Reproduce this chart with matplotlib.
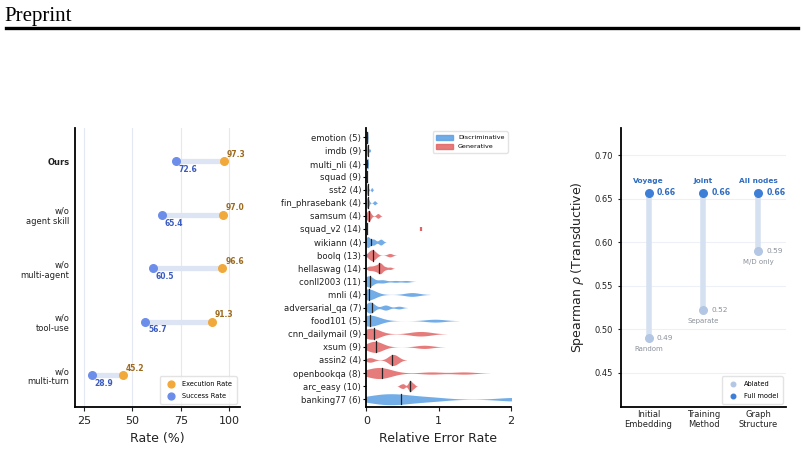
import numpy as np
import matplotlib
matplotlib.use('Agg')
import matplotlib.pyplot as plt
from matplotlib.lines import Line2D
from matplotlib.patches import Patch

# ---- panel 1: agent ablation ----
variants = ['Ours', 'w/o\nagent skill', 'w/o\nmulti-agent', 'w/o\ntool-use', 'w/o\nmulti-turn']
exec_rate = [97.3, 97.0, 96.6, 91.3, 45.2]
succ_rate = [72.6, 65.4, 60.5, 56.7, 28.9]

# ---- panel 2: relative error per dataset ----
datasets = ['emotion', 'imdb', 'multi_nli', 'squad', 'sst2', 'fin_phrasebank', 'samsum',
            'squad_v2', 'wikiann', 'boolq', 'hellaswag', 'conll2003', 'mnli', 'adversarial_qa',
            'food101', 'cnn_dailymail', 'xsum', 'assin2', 'openbookqa', 'arc_easy', 'banking77']
counts = [5, 9, 4, 9, 4, 4, 4, 14, 4, 13, 14, 11, 4, 7, 5, 9, 9, 4, 8, 10, 6]
kinds = ['D', 'D', 'D', 'D', 'D', 'D', 'G', 'D', 'D', 'G', 'G', 'D', 'D', 'D',
         'D', 'G', 'G', 'G', 'G', 'G', 'D']
errors = [
    [0.004, 0.008, 0.012, 0.016, 0.02],
    [0.004, 0.008, 0.01, 0.014, 0.018, 0.02, 0.026, 0.035, 0.05],
    [0.004, 0.01, 0.018, 0.024],
    [0.002, 0.003, 0.004, 0.005, 0.005, 0.006, 0.007, 0.008, 0.01],
    [0.008, 0.014, 0.02, 0.075],
    [0.008, 0.016, 0.026, 0.115],
    [0.01, 0.03, 0.05, 0.16],
    [0.003, 0.004, 0.005, 0.006, 0.006, 0.007, 0.008, 0.01, 0.012],
    [0.008, 0.03, 0.1, 0.2],
    [0.02, 0.04, 0.06, 0.07, 0.08, 0.09, 0.1, 0.12, 0.14, 0.31, 0.34],
    [0.02, 0.05, 0.08, 0.11, 0.13, 0.15, 0.17, 0.18, 0.19, 0.2, 0.21, 0.23, 0.27, 0.33],
    [0.0, 0.01, 0.02, 0.03, 0.04, 0.05, 0.08, 0.2, 0.24, 0.4, 0.55],
    [0.0, 0.02, 0.05, 0.63],
    [0.01, 0.03, 0.05, 0.07, 0.1, 0.25, 0.28, 0.45],
    [0.0, 0.03, 0.055, 0.1, 0.95],
    [0.01, 0.04, 0.06, 0.07, 0.1, 0.15, 0.65, 0.75, 0.85],
    [0.02, 0.06, 0.1, 0.12, 0.13, 0.16, 0.2, 0.75, 0.85],
    [0.05, 0.33, 0.37, 0.42],
    [0.02, 0.1, 0.15, 0.2, 0.24, 0.3, 0.9, 1.35],
    [0.47, 0.5, 0.52, 0.58, 0.6, 0.6, 0.61, 0.62, 0.64, 0.66],
    [0.1, 0.25, 0.4, 0.55, 0.9, 2.05],
]
# stray points of the other type
extra_rows = ['squad_v2', 'boolq']
extra_vals = [0.76, 0.005]
extra_kinds = ['G', 'D']

# ---- panel 3: GNN ablation ----
components = ['Initial\nEmbedding', 'Training\nMethod', 'Graph\nStructure']
full_score = [0.657, 0.657, 0.657]
abl_score = [0.49, 0.522, 0.59]
full_names = ['Voyage', 'Joint', 'All nodes']
abl_names = ['Random', 'Separate', 'M/D only']

C_EXEC = '#F2A93B'
C_SUCC = '#6C8EEA'
C_DISC = '#5B9FE3'
C_GEN = '#E26464'
TXT = '#222222'

fig = plt.figure(figsize=(8.04, 4.61), dpi=100)
fig.text(0.006, 0.985, 'Preprint', family='Liberation Serif', fontsize=15, va='top', ha='left')
fig.add_artist(Line2D([0.008, 0.993], [0.939, 0.939], lw=2.4, color='black'))


def style_axes(ax):
    for s in ['top', 'right']:
        ax.spines[s].set_visible(False)
    ax.spines['left'].set_linewidth(1.3)
    ax.spines['bottom'].set_linewidth(1.3)


# ---------------- left ----------------
ax1 = fig.add_axes([0.0933, 0.117, 0.2052, 0.605])
style_axes(ax1)
ypos = np.arange(len(variants))
for x in [25, 50, 75, 100]:
    ax1.axvline(x, color='#e4e8f2', lw=0.8, zorder=0)
for i in range(len(variants)):
    ax1.plot([succ_rate[i], exec_rate[i]], [ypos[i], ypos[i]], color='#dde4f3', lw=3.8,
             solid_capstyle='butt', zorder=1)
    ax1.annotate('%.1f' % exec_rate[i], (exec_rate[i], ypos[i]), xytext=(2, 5),
                 textcoords='offset points', fontsize=5.5, fontweight='bold', color='#9c6a1f',
                 ha='left', va='center')
    ax1.annotate('%.1f' % succ_rate[i], (succ_rate[i], ypos[i]), xytext=(2, -6),
                 textcoords='offset points', fontsize=5.5, fontweight='bold', color='#3a5bc0',
                 ha='left', va='center')
ax1.scatter(exec_rate, ypos, s=30, color=C_EXEC, zorder=3, label='Execution Rate')
ax1.scatter(succ_rate, ypos, s=30, color=C_SUCC, zorder=3, label='Success Rate')
ax1.set_xlim(20.3, 105.7)
ax1.set_ylim(4.6, -0.62)
ax1.set_xticks([25, 50, 75, 100])
ax1.set_yticks(ypos)
ax1.set_yticklabels(variants, fontsize=6, color=TXT)
ax1.get_yticklabels()[0].set_fontweight('bold')
ax1.tick_params(axis='y', length=0, pad=4)
ax1.tick_params(axis='x', labelsize=8, length=3, colors=TXT)
ax1.set_xlabel('Rate (%)', fontsize=9, color=TXT)
ax1.legend(loc='lower right', fontsize=4.8, frameon=True, edgecolor='#dddddd',
           handletextpad=0.6, borderpad=0.7, labelspacing=0.9, markerscale=0.9)

# ---------------- middle ----------------
ax2 = fig.add_axes([0.4552, 0.117, 0.1803, 0.605])
style_axes(ax2)


def kde(vals, grid):
    v = np.asarray(vals, dtype=float)
    bw = 0.5 * v.std() * len(v) ** (-0.2)
    bw = max(bw, 0.0015)
    d = np.zeros_like(grid)
    for p in v:
        d += np.exp(-0.5 * ((grid - p) / bw) ** 2)
    return d, bw


for i, vals in enumerate(errors):
    c = C_DISC if kinds[i] == 'D' else C_GEN
    v = np.asarray(vals)
    _, bw = kde(v, np.array([0.0]))
    grid = np.linspace(v.min() - 2.5 * bw, v.max() + 2.5 * bw, 400)
    dens, _ = kde(v, grid)
    scale = 0.42 / dens.max()
    ax2.fill_between(grid, i - dens * scale, i + dens * scale, color=c, alpha=0.85, lw=0)
    med = np.median(v)
    dm, _ = kde(v, np.array([med]))
    h = dm[0] * scale
    ax2.plot([med, med], [i - h, i + h], color='#222222', lw=0.9)

for name, val, k in zip(extra_rows, extra_vals, extra_kinds):
    r = datasets.index(name)
    c = C_DISC if k == 'D' else C_GEN
    ax2.plot([val, val], [r - 0.12, r + 0.12], color=c, lw=1.6, solid_capstyle='butt')

ax2.set_xlim(-0.005, 2.0)
ax2.set_ylim(len(datasets) - 0.4, -0.7)
ax2.set_yticks(np.arange(len(datasets)))
ax2.set_yticklabels(['%s (%d)' % (n, c) for n, c in zip(datasets, counts)], fontsize=6.1, color=TXT)
ax2.tick_params(axis='y', length=2, width=0.8, pad=1.5)
ax2.set_xticks([0, 1, 2])
ax2.tick_params(axis='x', labelsize=8, length=3, colors=TXT)
ax2.set_xlabel('Relative Error Rate', fontsize=9, color=TXT)
ax2.legend(handles=[Patch(color=C_DISC, alpha=0.85, label='Discriminative'),
                    Patch(color=C_GEN, alpha=0.85, label='Generative')],
           loc='upper right', fontsize=4.6, frameon=True, edgecolor='#dddddd',
           handlelength=2.6, handleheight=0.9, borderpad=0.5)

# ---------------- right ----------------
ax3 = fig.add_axes([0.7724, 0.117, 0.2052, 0.605])
style_axes(ax3)
xpos = np.arange(len(components))
for y in [0.45, 0.50, 0.55, 0.60, 0.65, 0.70]:
    ax3.axhline(y, color='#edf0f6', lw=0.8, zorder=0)
for i in range(len(components)):
    ax3.plot([xpos[i], xpos[i]], [abl_score[i], full_score[i]], color='#d5e1f1', lw=4,
             solid_capstyle='butt', zorder=1)
    ax3.annotate('%.2f' % full_score[i], (xpos[i], full_score[i]), xytext=(6, 0),
                 textcoords='offset points', fontsize=5.6, fontweight='bold', color='#2f6cc0',
                 ha='left', va='center')
    ax3.annotate(full_names[i], (xpos[i], full_score[i]), xytext=(0, 8),
                 textcoords='offset points', fontsize=5.3, fontweight='bold', color='#2f6cc0',
                 ha='center', va='center')
    ax3.annotate('%.2f' % abl_score[i], (xpos[i], abl_score[i]), xytext=(6, 0),
                 textcoords='offset points', fontsize=5.3, color='#8b919b',
                 ha='left', va='center')
    ax3.annotate(abl_names[i], (xpos[i], abl_score[i]), xytext=(0, -8),
                 textcoords='offset points', fontsize=5, color='#8b919b',
                 ha='center', va='center')
ax3.scatter(xpos, abl_score, s=30, color='#b3c7e4', zorder=3, label='Ablated')
ax3.scatter(xpos, full_score, s=30, color='#3d7fd6', zorder=3, label='Full model')
ax3.set_xlim(-0.5, 2.5)
ax3.set_ylim(0.4105, 0.731)
ax3.set_yticks([0.45, 0.50, 0.55, 0.60, 0.65, 0.70])
ax3.set_yticklabels(['0.45', '0.50', '0.55', '0.60', '0.65', '0.70'])
ax3.tick_params(axis='y', labelsize=6, length=2.5, colors=TXT)
ax3.set_xticks(xpos)
ax3.set_xticklabels(components, fontsize=6, color=TXT, linespacing=1.1)
ax3.tick_params(axis='x', length=0, pad=2)
ax3.set_ylabel(r'Spearman $\rho$ (Transductive)', fontsize=9, color=TXT, labelpad=6)
ax3.legend(loc='lower right', fontsize=4.8, frameon=True, edgecolor='#dddddd',
           markerscale=0.6, handletextpad=0.6, borderpad=0.7, labelspacing=0.9)

fig.savefig('out.png', dpi=100)
